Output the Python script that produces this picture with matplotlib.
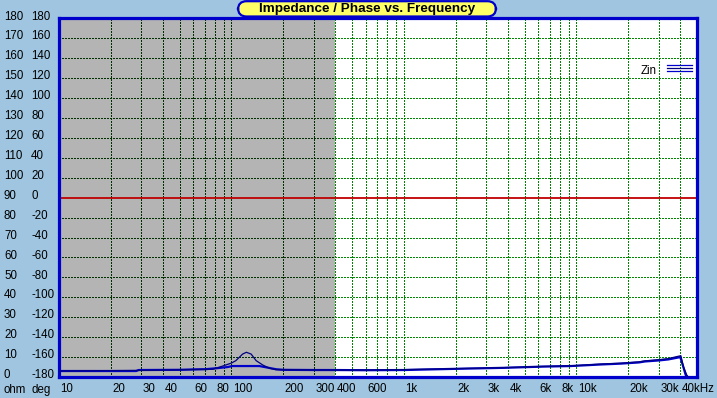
import matplotlib
matplotlib.use('Agg')
import matplotlib.pyplot as plt
from matplotlib.patches import FancyBboxPatch
from matplotlib.lines import Line2D
import matplotlib.transforms as mtransforms

# ---------------- data ----------------
freq_a = [10, 28, 50, 65, 78, 89, 100, 106, 116, 122, 130, 139, 152, 166, 181, 200,
          400, 600, 1000, 2000, 3800, 6300, 9300, 14000, 18000, 23000, 25000, 30000,
          34000, 38000, 40300, 41700, 43600, 44500]
zin_a = [3.0, 3.3, 3.6, 3.8, 3.9, 5.5, 7.0, 8.2, 11.5, 12.4, 11.5, 8.2, 6.0, 4.4, 3.7, 3.6,
         3.5, 3.5, 3.7, 4.2, 4.7, 5.3, 5.6, 6.5, 6.9, 7.6, 8.1, 8.7,
         9.2, 10.2, 10.7, 5.2, 1.0, 0.0]

freq_b = [10, 28, 29, 50, 60, 70, 82, 95, 101, 145, 160, 181, 200, 300, 400, 600,
          1000, 2000, 3800, 6300, 9300, 14000, 18000, 23000, 25000, 30000, 34000,
          38000, 40000, 41500, 43000, 44000]
zin_b = [3.0, 3.0, 3.5, 3.6, 3.8, 3.9, 4.4, 5.0, 5.5, 5.5, 4.8, 3.9, 3.6, 3.5, 3.5, 3.4,
         3.5, 4.1, 4.6, 5.2, 5.5, 6.3, 6.7, 7.3, 7.8, 8.3, 8.8,
         9.6, 10.0, 5.5, 1.0, 0.0]

ohm_ticks = [180, 170, 160, 150, 140, 130, 120, 110, 100, 90, 80, 70, 60, 50, 40, 30, 20, 10, 0]
deg_ticks = [180, 160, 140, 120, 100, 80, 60, 40, 20, 0, -20, -40, -60, -80, -100, -120, -140, -160, -180]

xtick_vals = [10, 20, 30, 40, 60, 80, 100, 200, 300, 400, 600, 1000, 2000, 3000, 4000,
              6000, 8000, 10000, 20000, 30000, 40000]
xtick_labels = ['10', '20', '30', '40', '60', '80', '100', '200', '300', '400', '600',
                '1k', '2k', '3k', '4k', '6k', '8k', '10k', '20k', '30k', '40kHz']

grid_freqs = [20, 30, 40, 50, 60, 70, 80, 90,
              100, 200, 300, 400, 500, 600, 700, 800, 900,
              1000, 2000, 3000, 4000, 5000, 6000, 7000, 8000, 9000,
              10000, 20000, 30000, 40000]

title = 'Impedance / Phase vs. Frequency'
legend_label = 'Zin'

# ---------------- style ----------------
W, H = 717, 398
BG = '#9FC5E0'
FRAME = '#0000CC'
GRAY = '#B4B4B4'
GRID_DARK = '#003000'
GRID_GREEN = '#008800'
FONT = ['Liberation Sans', 'DejaVu Sans']

plt.rcParams['font.family'] = FONT
plt.rcParams['lines.scale_dashes'] = False

def fx(x):
    return x / W

def fy(y):
    return 1 - y / H

fig = plt.figure(figsize=(W / 100, H / 100), dpi=100, facecolor=BG)
left, right, top, bottom = 59, 697, 18.3, 377
ax = fig.add_axes([fx(left), fy(bottom), (right - left) / W, (bottom - top) / H])
ax.set_xscale('log')
ax.set_xlim(10, 50000)
ax.set_ylim(0, 180)
ax.set_facecolor('white')
ax.axvspan(10, 400, color=GRAY, zorder=0, lw=0)

dashes = (1.44, 1.44)   # ~2 px on, 2 px off
lw_px = 0.72
for k in range(1, 18):
    if k == 9:
        continue
    y = k * 10
    ax.plot([10, 400], [y, y], color=GRID_DARK, dashes=dashes, lw=lw_px,
            zorder=1, antialiased=False, dash_capstyle='butt')
    ax.plot([400, 50000], [y, y], color=GRID_GREEN, dashes=dashes, lw=lw_px,
            zorder=1, antialiased=False, dash_capstyle='butt')
for f in grid_freqs:
    c = GRID_DARK if f < 400 else GRID_GREEN
    ax.plot([f, f], [0, 180], color=c, dashes=dashes, lw=lw_px, zorder=1,
            antialiased=False, dash_capstyle='butt')
ax.axhline(90, color='#C00000', lw=1.3, zorder=2)

ax.plot(freq_b, zin_b, color='#0000CC', lw=1.6, zorder=3)
ax.plot(freq_a, zin_a, color='#000080', lw=0.9, zorder=4)

for s in ax.spines.values():
    s.set_color(FRAME)
    s.set_linewidth(2.3)
ax.set_xticks([])
ax.set_yticks([])
ax.minorticks_off()
ax.tick_params(which='both', length=0, labelbottom=False, labelleft=False)

# y labels
fs = 8.3
ty = mtransforms.blended_transform_factory(fig.transFigure, ax.transData)
for o, d in zip(ohm_ticks, deg_ticks):
    ax.text(fx(4), o + 0.9, str(o), transform=ty, ha='left', va='center', fontsize=fs,
            color='black', clip_on=False)
    ax.text(fx(31), o + 0.9, str(d), transform=ty, ha='left', va='center', fontsize=fs,
            color='black', clip_on=False)
fig.text(fx(4), fy(390), 'ohm', ha='left', va='center', fontsize=fs)
fig.text(fx(31), fy(390), 'deg', ha='left', va='center', fontsize=fs)

# x labels
tx = mtransforms.blended_transform_factory(ax.transData, fig.transFigure)
offs = mtransforms.ScaledTranslation(1.5 / 100, 0, fig.dpi_scale_trans)
for v, lab in zip(xtick_vals, xtick_labels):
    ax.text(v, fy(389.5), lab, transform=tx + offs, ha='left', va='center', fontsize=fs,
            color='black', clip_on=False)

# title box
box = FancyBboxPatch((fx(238), fy(16.5)), fx(258), fy(1.2) - fy(16.5),
                     boxstyle='round,pad=0,rounding_size=0.012',
                     transform=fig.transFigure, facecolor='#FFFF66', edgecolor=FRAME,
                     lw=1.6, zorder=10, mutation_aspect=717 / 398)
fig.add_artist(box)
fig.text(fx(367.5), fy(9.3), title, ha='center', va='center', fontsize=9.7,
         fontweight='bold', zorder=11)

# legend
fig.text(fx(657), fy(71.5), legend_label, ha='right', va='center', fontsize=fs, zorder=11)
for yy, c in [(65.3, '#0000CC'), (68.0, '#000080'), (70.7, '#0000CC')]:
    fig.add_artist(Line2D([fx(667), fx(692)], [fy(yy), fy(yy)], color=c, lw=0.9,
                          transform=fig.transFigure, zorder=11))

fig.savefig('out.png', dpi=100, facecolor=BG)
